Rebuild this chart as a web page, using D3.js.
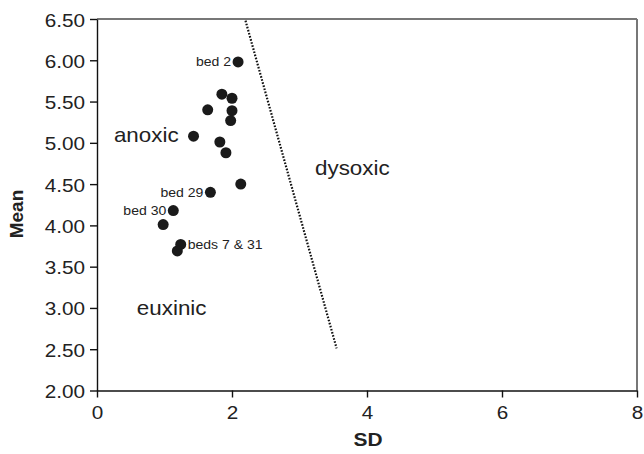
<!DOCTYPE html>
<html>
<head>
<meta charset="utf-8">
<script src="https://cdn.jsdelivr.net/npm/d3@7"></script>
<style>
  body { margin: 0; background: #fff; }
  svg { display: block; font-family: Arial, "Liberation Sans", sans-serif; }
</style>
</head>
<body>
<svg width="644" height="454"></svg>
<script>
// bed statistics
var sdValues   = [2.09, 1.85, 2.00, 1.64, 2.00, 1.98, 1.43, 1.82, 1.91, 2.13, 1.68, 1.13, 0.98, 1.24, 1.19];
var meanValues = [5.98, 5.59, 5.54, 5.40, 5.39, 5.27, 5.08, 5.01, 4.88, 4.50, 4.40, 4.18, 4.01, 3.77, 3.69];
// labelled beds: index into the arrays above, and which side the text goes
var bedLabels = [
  {i: 0, text: "bed 2", side: "left"},
  {i: 10, text: "bed 29", side: "left"},
  {i: 11, text: "bed 30", side: "left"},
  {i: 13, text: "beds 7 & 31", side: "right"}
];
// dysoxic boundary
var boundarySd = [2.20, 3.55];
var boundaryMean = [6.48, 2.51];
// field names, anchored in data units (start of text, baseline)
var regionNames = ["anoxic", "euxinic", "dysoxic"];
var regionSd = [0.25, 0.59, 3.23];
var regionMean = [5.01, 2.91, 4.61];
// axes
var xTicks = [0, 2, 4, 6, 8];
var yTicks = [2.00, 2.50, 3.00, 3.50, 4.00, 4.50, 5.00, 5.50, 6.00, 6.50];

var svg = d3.select("svg");
var x = d3.scaleLinear().domain([0, 8]).range([97, 637]);
var y = d3.scaleLinear().domain([2, 6.5]).range([390.5, 19]);

// text in the source is a little wider than Arial, stretch it sideways
function placeText(sel, px, py, sx) {
  return sel.attr("transform", "translate(" + px + "," + py + ") scale(" + sx + ",1)");
}

// frame on top and right
svg.append("line")
  .attr("x1", x(0)).attr("x2", x(8))
  .attr("y1", y(6.5)).attr("y2", y(6.5))
  .attr("stroke", "#777").attr("stroke-width", 2);
svg.append("line")
  .attr("x1", x(8)).attr("x2", x(8))
  .attr("y1", y(6.5)).attr("y2", y(2))
  .attr("stroke", "#777").attr("stroke-width", 2);

var xAxis = svg.append("g")
  .attr("transform", "translate(0," + y(2) + ")")
  .call(d3.axisBottom(x).tickValues(xTicks).tickSize(7).tickSizeOuter(0).tickFormat(d3.format("d")));
var yAxis = svg.append("g")
  .attr("transform", "translate(" + x(0) + ",0)")
  .call(d3.axisLeft(y).tickValues(yTicks).tickSize(7).tickSizeOuter(0).tickFormat(d3.format(".2f")));

[xAxis, yAxis].forEach(function(g) {
  g.selectAll("path, line").attr("stroke", "#111").attr("stroke-width", 1.4);
  g.selectAll("text")
    .attr("font-family", "Arial, 'Liberation Sans', sans-serif")
    .attr("font-size", 18.5)
    .attr("fill", "#222");
});
xAxis.selectAll("text").attr("y", 0).attr("dy", 0)
  .each(function() { placeText(d3.select(this), 0, 28, 1.12); });
yAxis.selectAll("text").attr("x", 0).attr("dy", 0)
  .each(function() { placeText(d3.select(this), -12, 7, 1.12); });

placeText(svg.append("text"), 368, 446, 1.1)
  .attr("text-anchor", "middle")
  .attr("font-weight", "bold").attr("font-size", 19)
  .attr("fill", "#222")
  .text("SD");
svg.append("text")
  .attr("transform", "translate(23," + 214 + ") rotate(-90)")
  .attr("text-anchor", "middle")
  .attr("font-weight", "bold").attr("font-size", 19)
  .attr("fill", "#222")
  .text("Mean");

// boundary line
svg.append("line")
  .attr("x1", x(boundarySd[0])).attr("y1", y(boundaryMean[0]))
  .attr("x2", x(boundarySd[1])).attr("y2", y(boundaryMean[1]))
  .attr("stroke", "#111").attr("stroke-width", 2.2)
  .attr("stroke-dasharray", "1.6,1.6");

// points
svg.selectAll(".bed")
  .data(d3.range(sdValues.length))
  .enter()
  .append("circle")
  .attr("class", "bed")
  .attr("cx", function(i) { return x(sdValues[i]); })
  .attr("cy", function(i) { return y(meanValues[i]); })
  .attr("r", 5.5)
  .attr("fill", "#1a1a1a");

svg.selectAll(".bed-label")
  .data(bedLabels)
  .enter()
  .append("text")
  .attr("class", "bed-label")
  .each(function(d) {
    placeText(d3.select(this),
      x(sdValues[d.i]) + (d.side === "left" ? -7 : 7),
      y(meanValues[d.i]) + 4.5, 1.08);
  })
  .attr("text-anchor", function(d) { return d.side === "left" ? "end" : "start"; })
  .attr("font-size", 13)
  .attr("fill", "#222")
  .text(function(d) { return d.text; });

svg.selectAll(".region")
  .data(regionNames)
  .enter()
  .append("text")
  .attr("class", "region")
  .each(function(d, i) { placeText(d3.select(this), x(regionSd[i]), y(regionMean[i]), 1.12); })
  .attr("font-size", 20)
  .attr("fill", "#222")
  .text(function(d) { return d; });
</script>
</body>
</html>
